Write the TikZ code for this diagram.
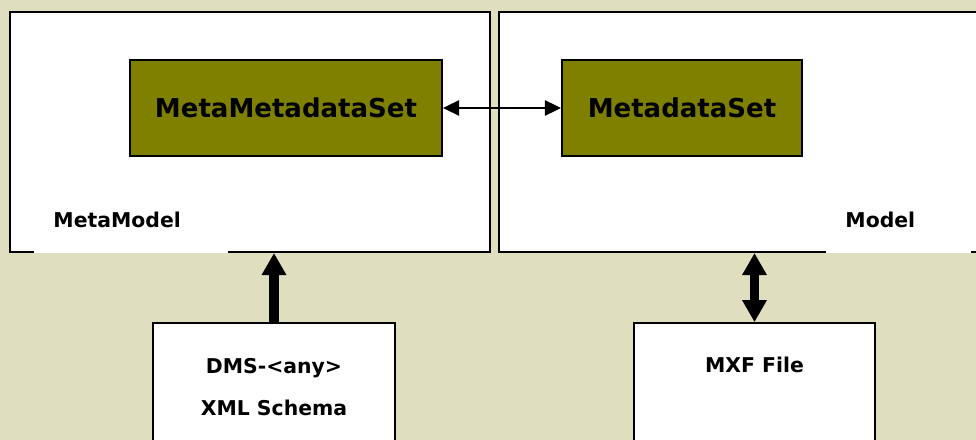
\documentclass[tikz,border=0pt]{standalone}
\usepackage{fontspec}
\setmainfont{DejaVu Sans}
\usetikzlibrary{arrows.meta}
\definecolor{bgbeige}{HTML}{DFDFC0}
\definecolor{setolive}{HTML}{808000}
\begin{document}
\begin{tikzpicture}[x=0.025cm, y=-0.025cm,
  frame/.style={draw=black, line width=1.4pt, fill=white, minimum height=6cm},
  setbox/.style={draw=black, line width=1.4pt, fill=setolive, minimum height=2.4cm,
    font=\fontsize{18.5}{22}\selectfont\bfseries},
  filebox/.style={draw=black, line width=1.2pt, fill=white, minimum height=3.925cm},
  tag/.style={fill=white, inner xsep=0.48cm, inner ysep=0pt, minimum height=1.65cm,
    align=left, font=\fontsize{14.5}{17}\selectfont\bfseries},
  filetext/.style={align=center, font=\fontsize{14.5}{30}\selectfont\bfseries},
  thickarrow/.style={line width=7pt, -{Triangle[length=0.55cm, width=0.58cm]}},
  thickboth/.style={line width=6.5pt, {Triangle[length=0.55cm, width=0.58cm]}-{Triangle[length=0.55cm, width=0.58cm]}},
  thinboth/.style={line width=1.2pt, {Triangle[length=0.4cm, width=0.38cm]}-{Triangle[length=0.4cm, width=0.38cm]}}]
\fill[bgbeige] (0,0) rectangle (976,440);
\clip (0,0) rectangle (976,440);

\node[frame, minimum width=12cm] (metamodel) at (250,132) {};
\node[frame, minimum width=12.525cm] (model) at (749.5,132) {};

\node[setbox, minimum width=7.8cm] (mms) at (286,108) {MetaMetadataSet};
\node[setbox, minimum width=6cm] (ms) at (682,108) {MetadataSet};
\draw[thinboth] (mms.east) -- (ms.west);

\node[tag, text width=3.875cm, anchor=south west] (metatag) at (34,253.5) {MetaModel};
\node[tag, text width=2.65cm, anchor=south west] (modeltag) at (826,253.5) {Model};

\node[filebox, minimum width=6.05cm] (dms) at (274,401.5) {};
\node[filetext] (dmstext) at (274,387) {DMS-<any>\\XML Schema};
\node[filebox, minimum width=6.025cm] (mxf) at (754.5,401.5) {};
\node[filetext] (mxftext) at (754.5,365) {MXF File};

\draw[thickarrow] (dms.north) -- (dms.north |- metamodel.south);
\draw[thickboth] (mxf.north) -- (mxf.north |- model.south);
\end{tikzpicture}
\end{document}
